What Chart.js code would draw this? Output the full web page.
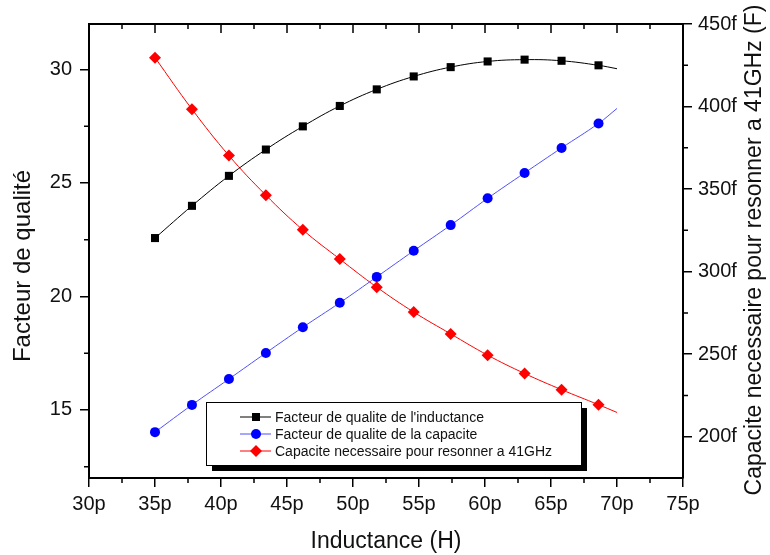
<!DOCTYPE html>
<html>
<head>
<meta charset="utf-8">
<title>Facteur de qualite vs inductance</title>
<script src="https://cdn.jsdelivr.net/npm/chart.js@4.4.1/dist/chart.umd.min.js"></script>
<style>
  body { margin: 0; background: #fff; }
  canvas { display: block; }
</style>
</head>
<body>
<canvas id="qChart" width="770" height="555"></canvas>
<script>
// inductance (pH) - last value is where the fitted curves stop (no marker)
const inductance = [35, 37.8, 40.6, 43.4, 46.2, 49, 51.8, 54.6, 57.4, 60.2, 63, 65.8, 68.6, 70];
const qInductance = [22.57, 23.99, 25.31, 26.47, 27.49, 28.39, 29.12, 29.69, 30.1, 30.35, 30.43, 30.38, 30.18, 30.03];
const qCapacite = [14.02, 15.22, 16.36, 17.51, 18.64, 19.72, 20.86, 22.01, 23.14, 24.32, 25.44, 26.54, 27.62, 28.28];
// capacite en fF
const capaResonance = [429.6, 398.4, 370.3, 346.3, 325.3, 307.6, 290.6, 275.5, 262.3, 249.4, 238.3, 228.5, 219.4, 214.7];

const xTicks = [30, 35, 40, 45, 50, 55, 60, 65, 70, 75];
const xMinor = [32.5, 37.5, 42.5, 47.5, 52.5, 57.5, 62.5, 67.5, 72.5];
const leftTicks = [15, 20, 25, 30];
const leftMinor = [12.5, 17.5, 22.5, 27.5];
const rightTicks = [200, 250, 300, 350, 400, 450];
const rightMinor = [225, 275, 325, 375, 425];

const legendLabels = [
  "Facteur de qualite de l'inductance",
  'Facteur de qualite de la capacite',
  'Capacite necessaire pour resonner a 41GHz',
];

const FONT = '"Liberation Sans", Arial, sans-serif';
const pts = (ys) => inductance.map((x, i) => ({ x: x, y: ys[i] }));
const lastHidden = (r) => inductance.map((_, i) => (i === inductance.length - 1 ? 0 : r));

function drawMarker(ctx, style, x, y, r) {
  ctx.beginPath();
  if (style === 'rect') {
    const s = r * Math.SQRT1_2;
    ctx.rect(x - s, y - s, 2 * s, 2 * s);
  } else if (style === 'rectRot') {
    ctx.moveTo(x, y - r);
    ctx.lineTo(x + r, y);
    ctx.lineTo(x, y + r);
    ctx.lineTo(x - r, y);
    ctx.closePath();
  } else {
    ctx.arc(x, y, r, 0, Math.PI * 2);
  }
  ctx.fill();
}

function verticalText(ctx, text, x, y, size) {
  ctx.save();
  ctx.fillStyle = '#111';
  ctx.font = size + 'px ' + FONT;
  ctx.textAlign = 'center';
  ctx.textBaseline = 'middle';
  ctx.translate(x, y);
  ctx.rotate(-Math.PI / 2);
  ctx.fillText(text, 0, 0);
  ctx.restore();
}

// cadre du haut, ticks mineurs, titres verticaux et legende
const framePlugin = {
  id: 'frame',
  afterDraw(chart) {
    const ctx = chart.ctx;
    const area = chart.chartArea;
    const sx = chart.scales.x, sy = chart.scales.y, sy1 = chart.scales.y1;
    ctx.save();
    ctx.strokeStyle = '#000';
    ctx.lineWidth = 2;
    ctx.beginPath();
    ctx.moveTo(area.left - 1, area.top);
    ctx.lineTo(area.right + 1, area.top);
    ctx.stroke();

    ctx.lineWidth = 1.5;
    ctx.beginPath();
    xTicks.forEach(v => {
      const px = sx.getPixelForValue(v);
      ctx.moveTo(px, area.top); ctx.lineTo(px, area.top + 9);
    });
    xMinor.forEach(v => {
      const px = sx.getPixelForValue(v);
      ctx.moveTo(px, area.top); ctx.lineTo(px, area.top + 5);
      ctx.moveTo(px, area.bottom); ctx.lineTo(px, area.bottom + 5);
    });
    leftMinor.forEach(v => {
      const py = sy.getPixelForValue(v);
      ctx.moveTo(area.left, py); ctx.lineTo(area.left - 5, py);
    });
    rightMinor.forEach(v => {
      const py = sy1.getPixelForValue(v);
      ctx.moveTo(area.right, py); ctx.lineTo(area.right + 5, py);
    });
    ctx.stroke();
    ctx.restore();

    verticalText(ctx, 'Facteur de qualité', 23, 266, 24);
    verticalText(ctx, 'Capacite necessaire pour resonner a 41GHz (F)', 755, 250, 23);

    // legende avec ombre
    const bx = 206, by = 402, bw = 375, bh = 63;
    ctx.save();
    ctx.fillStyle = '#000';
    ctx.fillRect(bx + 6, by + 6, bw, bh);
    ctx.fillStyle = '#fff';
    ctx.fillRect(bx, by, bw, bh);
    ctx.strokeStyle = '#000';
    ctx.lineWidth = 1;
    ctx.strokeRect(bx + 0.5, by + 0.5, bw, bh);
    ctx.font = '14px ' + FONT;
    ctx.textAlign = 'left';
    ctx.textBaseline = 'middle';
    chart.data.datasets.forEach((ds, i) => {
      const ly = 417 + i * 17;
      ctx.strokeStyle = ds.borderColor;
      ctx.lineWidth = 1;
      ctx.beginPath();
      ctx.moveTo(240, ly); ctx.lineTo(271, ly);
      ctx.stroke();
      ctx.fillStyle = ds.pointBackgroundColor;
      drawMarker(ctx, ds.pointStyle, 256, ly, ds.legendRadius);
      ctx.fillStyle = '#111';
      ctx.fillText(legendLabels[i], 275, ly + 1);
    });
    ctx.restore();
  }
};

const tickFont = { family: FONT, size: 20 };

new Chart(document.getElementById('qChart'), {
  type: 'line',
  data: {
    datasets: [
      {
        label: legendLabels[0],
        data: pts(qInductance),
        yAxisID: 'y',
        borderColor: '#000',
        borderWidth: 1,
        pointStyle: 'rect',
        pointRadius: lastHidden(5.7),
        pointBackgroundColor: '#000',
        pointBorderWidth: 0,
        legendRadius: 5.7,
        tension: 0.4,
      },
      {
        label: legendLabels[1],
        data: pts(qCapacite),
        yAxisID: 'y',
        borderColor: '#4f4fff',
        borderWidth: 1,
        pointStyle: 'circle',
        pointRadius: lastHidden(5),
        pointBackgroundColor: '#0000ff',
        pointBorderWidth: 0,
        legendRadius: 5,
        tension: 0.4,
      },
      {
        label: legendLabels[2],
        data: pts(capaResonance),
        yAxisID: 'y1',
        borderColor: '#ff0000',
        borderWidth: 1,
        pointStyle: 'rectRot',
        pointRadius: lastHidden(6),
        pointBackgroundColor: '#ff0000',
        pointBorderWidth: 0,
        legendRadius: 6,
        tension: 0.4,
      },
    ],
  },
  options: {
    responsive: false,
    devicePixelRatio: 1,
    animation: false,
    layout: { padding: { top: 24, left: 0, right: 0, bottom: 0 } },
    plugins: { legend: { display: false }, tooltip: { enabled: false } },
    scales: {
      x: {
        type: 'linear',
        position: 'bottom',
        min: 30,
        max: 75,
        afterBuildTicks: (s) => { s.ticks = xTicks.map(v => ({ value: v })); },
        afterFit: (s) => { s.height = 77; },
        ticks: { font: tickFont, color: '#111', padding: 5, maxRotation: 0, callback: (v) => v + 'p' },
        grid: { drawOnChartArea: false, tickLength: 9, color: '#000', lineWidth: 1.5 },
        border: { color: '#000', width: 2 },
        title: { display: true, text: 'Inductance (H)', color: '#111', font: { family: FONT, size: 23 }, padding: { top: 0, bottom: 0 } },
      },
      y: {
        position: 'left',
        min: 12,
        max: 32,
        afterBuildTicks: (s) => { s.ticks = leftTicks.map(v => ({ value: v })); },
        afterFit: (s) => { s.width = 89; },
        ticks: { font: tickFont, color: '#111', padding: 8 },
        grid: { drawOnChartArea: false, tickLength: 9, color: '#000', lineWidth: 1.5 },
        border: { color: '#000', width: 2 },
      },
      y1: {
        position: 'right',
        min: 175,
        max: 450,
        afterBuildTicks: (s) => { s.ticks = rightTicks.map(v => ({ value: v })); },
        afterFit: (s) => { s.width = 87; },
        ticks: { font: tickFont, color: '#111', padding: 6, callback: (v) => v + 'f' },
        grid: { drawOnChartArea: false, tickLength: 9, color: '#000', lineWidth: 1.5 },
        border: { color: '#000', width: 2 },
      },
    },
  },
  plugins: [framePlugin],
});
</script>
</body>
</html>
